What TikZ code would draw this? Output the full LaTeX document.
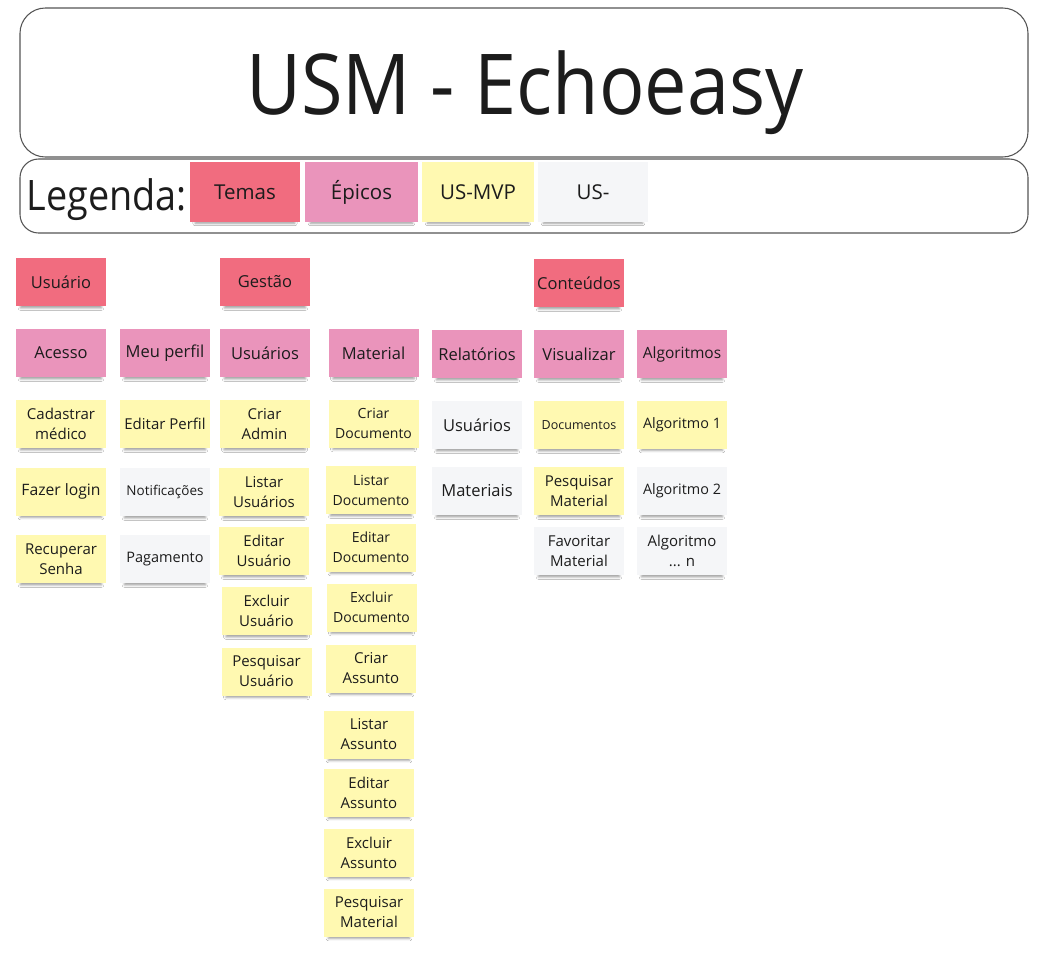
\documentclass[tikz,border=0pt]{standalone}
\usepackage{fontspec}
\usepackage{graphicx}
\setmainfont{Open Sans}
\usetikzlibrary{shadows.blur}

\definecolor{temaC}{HTML}{F16C7F}
\definecolor{epicoC}{HTML}{EA94BB}
\definecolor{mvpC}{HTML}{FFF9B1}
\definecolor{usC}{HTML}{F5F6F8}
\definecolor{inkC}{HTML}{1C1C1C}
\definecolor{frameC}{HTML}{555555}

% font size given in pixels of the drawing (1px = 0.75pt)
\newcommand\pxf[1]{\fontsize{\fpeval{#1*0.75}}{15}\selectfont}

\tikzset{
  note/.style={rectangle, draw=none, align=center, text=inkC, inner sep=1pt,
    minimum width=67.5pt, minimum height=36pt, font=\pxf{15},
    blur shadow={shadow xshift=0pt, shadow yshift=-3.6pt, shadow scale=0.9,
      shadow blur radius=2pt, shadow opacity=40}},
  tema/.style={note, fill=temaC, font=\pxf{16.5}},
  epico/.style={note, fill=epicoC, font=\pxf{16.5}},
  mvp/.style={note, fill=mvpC},
  usn/.style={note, fill=usC},
  legnote/.style={minimum width=83pt, minimum height=45pt, font=\pxf{20.5}},
  frame/.style={draw=frameC, line width=0.8pt, fill=white},
}

\begin{document}
\begin{tikzpicture}[x=0.75pt, y=-0.75pt]
\useasboundingbox[fill=white] (0,0) rectangle (1044,957);

% header frames
\draw[frame, rounded corners=19pt] (20,8) rectangle (1028,157);
\node[text=inkC, font=\fontsize{63}{70}\selectfont] (titulo) at (525,93) {\scalebox{0.9}[1]{USM - Echoeasy}};

\draw[frame, rounded corners=14pt] (20,159) rectangle (1028,233);
\node[text=inkC, anchor=west, font=\fontsize{31.5}{36}\selectfont] (legenda) at (22,200) {\scalebox{0.9}[1]{Legenda:}};

% legend notes
\node[tema, legnote, minimum width=83pt] (lTemas) at (245,192) {Temas};
\node[epico, legnote, minimum width=85pt] (lEpicos) at (361.5,192) {Épicos};
\node[mvp, legnote, minimum width=84pt] (lMvp) at (478,192) {US-MVP};
\node[usn, legnote, minimum width=82.5pt] (lUs) at (593,192) {US-};

% themes
\node[tema] (usuario) at (61,282) {Usuário};
\node[tema] (gestao) at (265,282) {Gestão};
\node[tema] (conteudos) at (579,283) {Conteúdos};

% epics
\node[epico] (acesso) at (61,353) {Acesso};
\node[epico] (meuPerfil) at (165,353) {Meu perfil};
\node[epico] (gUsuarios) at (265,353) {Usuários};
\node[epico] (material) at (373.5,353) {Material};
\node[epico] (relatorios) at (477,354) {Relatórios};
\node[epico] (visualizar) at (579,354) {Visualizar};
\node[epico, font=\pxf{15.5}] (algoritmos) at (682,354) {Algoritmos};

% Acesso
\node[mvp] (cadastrar) at (61,424) {Cadastrar\\médico};
\node[mvp, font=\pxf{15.7}] (login) at (61,491.5) {Fazer login};
\node[mvp] (recuperar) at (61,559) {Recuperar\\Senha};

% Meu perfil
\node[mvp] (editarPerfil) at (165,424) {Editar Perfil};
\node[usn, font=\pxf{13.5}] (notificacoes) at (165,492) {Notificações};
\node[usn, font=\pxf{14.5}] (pagamento) at (165,559) {Pagamento};

% Usuarios (gestao)
\node[mvp] (criarAdmin) at (264.5,424) {Criar\\Admin};
\node[mvp] (listarUsuarios) at (264,492) {Listar\\Usuários};
\node[mvp] (editarUsuario) at (264,551) {Editar\\Usuário};
\node[mvp] (excluirUsuario) at (266.5,611) {Excluir\\Usuário};
\node[mvp] (pesquisarUsuario) at (266.5,671.5) {Pesquisar\\Usuário};

% Material
\node[mvp, font=\pxf{14}] (criarDoc) at (373.5,423.5) {Criar\\Documento};
\node[mvp, font=\pxf{14}] (listarDoc) at (371,490) {Listar\\Documento};
\node[mvp, font=\pxf{14}] (editarDoc) at (371,547.5) {Editar\\Documento};
\node[mvp, font=\pxf{14}] (excluirDoc) at (371.5,607.5) {Excluir\\Documento};
\node[mvp] (criarAssunto) at (371,668.5) {Criar\\Assunto};
\node[mvp] (listarAssunto) at (369,734.5) {Listar\\Assunto};
\node[mvp] (editarAssunto) at (369,792.5) {Editar\\Assunto};
\node[mvp] (excluirAssunto) at (369,852.5) {Excluir\\Assunto};
\node[mvp] (pesquisarMat) at (369,912.5) {Pesquisar\\Material};

% Relatorios
\node[usn, font=\pxf{16.5}] (relUsuarios) at (477,425) {Usuários};
\node[usn, font=\pxf{16.5}] (relMateriais) at (477,491) {Materiais};

% Visualizar
\node[mvp, font=\pxf{12.5}] (documentos) at (579,425) {Documentos};
\node[mvp] (pesqMaterial) at (579,491) {Pesquisar\\Material};
\node[usn] (favoritar) at (579,551) {Favoritar\\Material};

% Algoritmos
\node[mvp, font=\pxf{14.4}] (alg1) at (682,424.5) {Algoritmo 1};
\node[usn, font=\pxf{14.4}] (alg2) at (682,491) {Algoritmo 2};
\node[usn] (algN) at (682,551) {Algoritmo\\... n};
\end{tikzpicture}
\end{document}
